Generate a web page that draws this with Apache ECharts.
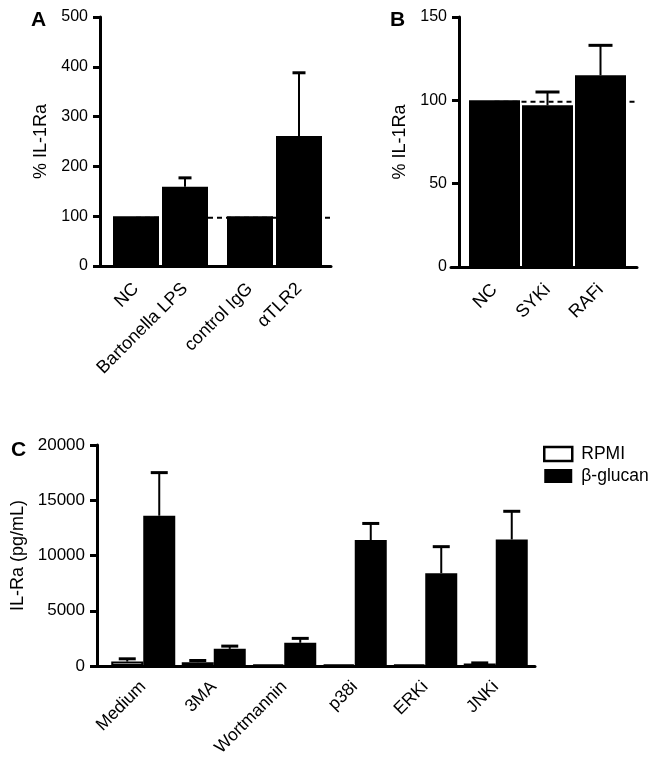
<!DOCTYPE html>
<html>
<head>
<meta charset="utf-8">
<script src="https://cdn.jsdelivr.net/npm/echarts@6/dist/echarts.min.js"></script>
<style>
html,body{margin:0;padding:0;background:#fff;}
#chart{width:662px;height:764px;}
</style>
</head>
<body>
<div id="chart"></div>
<script>
// ---------- DATA ----------
// Panel A
const catsA = ['NC', 'Bartonella LPS', 'control IgG', 'αTLR2'];
const valsA = [100, 159, 100, 261];
const errTopA = [null, 177, null, 388];
// Panel B
const catsB = ['NC', 'SYKi', 'RAFi'];
const valsB = [100, 97, 115];
const errTopB = [null, 105, 133];
// Panel C
const catsC = ['Medium', '3MA', 'Wortmannin', 'p38i', 'ERKi', 'JNKi'];
const rpmiC = [400, 350, 150, 150, 120, 220];
const rpmiErrTopC = [650, 500, null, null, null, 280];
const glucanC = [13600, 1550, 2100, 11400, 8400, 11450];
const glucanErrTopC = [17500, 1800, 2500, 12900, 10800, 14000];
const seriesNamesC = ['RPMI', 'β-glucan'];
const refLine = 100;
const titleA = '% IL-1Ra', titleB = '% IL-1Ra', titleC = 'IL-Ra (pg/mL)';

// ---------- LAYOUT ----------
const FONT = "'Liberation Sans', Arial, Helvetica, sans-serif";
const L = {
  A: { axes: { left: 100, top: 17, width: 231, height: 249 }, ext: 5,
       bars: [{ left: 111.5, width: 98 }, { left: 225.5, width: 98 }],
       barWidth: 46, cap: 13, max: 500, interval: 100, nameGap: 50,
       tickFont: 16, catFont: 18, catMargin: 20 },
  B: { axes: { left: 459, top: 17, width: 178, height: 250 }, ext: 8,
       bars: [{ left: 468, width: 159 }],
       barWidth: 51, cap: 24, max: 150, interval: 50, nameGap: 50,
       tickFont: 16, catFont: 18, catMargin: 20 },
  C: { axes: { left: 97, top: 445, width: 438, height: 221 }, ext: 4,
       bars: [{ left: 108, width: 423 }],
       barWidth: 32, cap: 17, max: 20000, interval: 5000, nameGap: 69,
       tickFont: 17, catFont: 17.5, catMargin: 18 }
};

const grids = [], xAxes = [], yAxes = [], series = [];

function addAxesGrid(P, yname) {
  const gi = grids.length;
  // grid starts slightly left of the y axis so the x-axis line overhangs it
  grids.push({ left: P.axes.left - P.ext, width: P.axes.width + P.ext, top: P.axes.top, height: P.axes.height });
  xAxes.push({ gridIndex: gi, type: 'value', min: 0, max: 1,
    axisLine: { show: true, lineStyle: { color: '#000', width: 3 } },
    axisTick: { show: false }, axisLabel: { show: false }, splitLine: { show: false } });
  yAxes.push({ gridIndex: gi, type: 'value', min: 0, max: P.max, interval: P.interval,
    offset: -P.ext,
    axisLine: { show: true, lineStyle: { color: '#000', width: 3 } },
    axisTick: { show: true, length: 7, lineStyle: { color: '#000', width: 3 } },
    axisLabel: { color: '#000', fontSize: P.tickFont, fontFamily: FONT, margin: 12,
      formatter: v => String(v) },
    splitLine: { show: false },
    name: yname, nameLocation: 'middle', nameGap: P.nameGap,
    nameTextStyle: { color: '#000', fontSize: 18, fontFamily: FONT } });
  return gi;
}

function addBarsGrid(P, box, cats) {
  const gi = grids.length;
  grids.push({ left: box.left, width: box.width, top: P.axes.top, height: P.axes.height });
  xAxes.push({ gridIndex: gi, type: 'category', data: cats,
    axisLine: { show: false }, axisTick: { show: false }, splitLine: { show: false },
    axisLabel: { interval: 0, rotate: 45, color: '#000', fontSize: P.catFont, fontFamily: FONT, margin: P.catMargin } });
  yAxes.push({ gridIndex: gi, type: 'value', min: 0, max: P.max, show: false });
  return gi;
}

function errSeries(gi, vals, tops, offset, cap) {
  const data = [];
  vals.forEach((v, i) => { if (tops[i] != null) data.push([i, v, tops[i]]); });
  return { type: 'custom', xAxisIndex: gi, yAxisIndex: gi, z: 4, silent: true, data,
    encode: { x: 0, y: [1, 2] },
    renderItem(params, api) {
      const p1 = api.coord([api.value(0), api.value(1)]);
      const p2 = api.coord([api.value(0), api.value(2)]);
      const x = p1[0] + offset;
      return { type: 'group', children: [
        { type: 'line', shape: { x1: x, y1: p1[1], x2: x, y2: p2[1] }, style: { stroke: '#000', lineWidth: 2 } },
        { type: 'line', shape: { x1: x - cap / 2, y1: p2[1], x2: x + cap / 2, y2: p2[1] }, style: { stroke: '#000', lineWidth: 3 } }
      ] };
    } };
}

function dashSeries(gi, startPx) {
  return { type: 'custom', xAxisIndex: gi, yAxisIndex: gi, z: 1, silent: true,
    data: [[0, refLine]],
    renderItem(params, api) {
      const cs = params.coordSys;
      const y = api.coord([0, api.value(1)])[1] + 1.5;
      return { type: 'line', shape: { x1: startPx, y1: y, x2: cs.x + cs.width, y2: y },
        style: { stroke: '#000', lineWidth: 2, lineDash: [5, 4] } };
    } };
}

// Panel A
const gA = addAxesGrid(L.A, titleA);
series.push(dashSeries(gA, L.A.bars[0].left + L.A.bars[0].width / 4));
[0, 1].forEach(k => {
  const cats = catsA.slice(k * 2, k * 2 + 2);
  const vals = valsA.slice(k * 2, k * 2 + 2);
  const tops = errTopA.slice(k * 2, k * 2 + 2);
  const gi = addBarsGrid(L.A, L.A.bars[k], cats);
  series.push({ type: 'bar', xAxisIndex: gi, yAxisIndex: gi, z: 2, barWidth: L.A.barWidth,
    data: vals, itemStyle: { color: '#000' }, silent: true });
  series.push(errSeries(gi, vals, tops, 0, L.A.cap));
});

// Panel B
const gB = addAxesGrid(L.B, titleB);
series.push(dashSeries(gB, L.B.bars[0].left + L.B.bars[0].width / 6));
const gB2 = addBarsGrid(L.B, L.B.bars[0], catsB);
series.push({ type: 'bar', xAxisIndex: gB2, yAxisIndex: gB2, z: 2, barWidth: L.B.barWidth,
  data: valsB, itemStyle: { color: '#000' }, silent: true });
series.push(errSeries(gB2, valsB, errTopB, 0, L.B.cap));

// Panel C
const gC = addAxesGrid(L.C, titleC);
const gC2 = addBarsGrid(L.C, L.C.bars[0], catsC);
series.push({ name: seriesNamesC[0], type: 'bar', xAxisIndex: gC2, yAxisIndex: gC2, z: 2,
  barWidth: L.C.barWidth, barGap: '0%', data: rpmiC,
  itemStyle: { color: '#fff', borderColor: '#000', borderWidth: 2 }, silent: true });
series.push({ name: seriesNamesC[1], type: 'bar', xAxisIndex: gC2, yAxisIndex: gC2, z: 2,
  barWidth: L.C.barWidth, barGap: '0%', data: glucanC,
  itemStyle: { color: '#000' }, silent: true });
series.push(errSeries(gC2, rpmiC, rpmiErrTopC, -L.C.barWidth / 2, L.C.cap));
series.push(errSeries(gC2, glucanC, glucanErrTopC, L.C.barWidth / 2, L.C.cap));

const chart = echarts.init(document.getElementById('chart'), null, { renderer: 'canvas' });
chart.setOption({
  animation: false,
  backgroundColor: '#fff',
  textStyle: { fontFamily: FONT },
  title: [
    { text: 'A', left: 31, top: 10 },
    { text: 'B', left: 390, top: 10 },
    { text: 'C', left: 11, top: 440 }
  ].map(t => Object.assign(t, { padding: 0,
    textStyle: { fontSize: 21, fontWeight: 'bold', color: '#000', fontFamily: FONT } })),
  legend: {
    orient: 'vertical', left: 543, top: 445, itemWidth: 28, itemHeight: 14, itemGap: 4,
    icon: 'rect', padding: 0,
    textStyle: { color: '#000', fontSize: 17.5, fontFamily: FONT, padding: [0, 0, 0, 4] },
    data: [
      { name: seriesNamesC[0], itemStyle: { color: '#fff', borderColor: '#000', borderWidth: 2.5 } },
      { name: seriesNamesC[1], itemStyle: { color: '#000' } }
    ]
  },
  grid: grids,
  xAxis: xAxes,
  yAxis: yAxes,
  series: series
});
</script>
</body>
</html>
